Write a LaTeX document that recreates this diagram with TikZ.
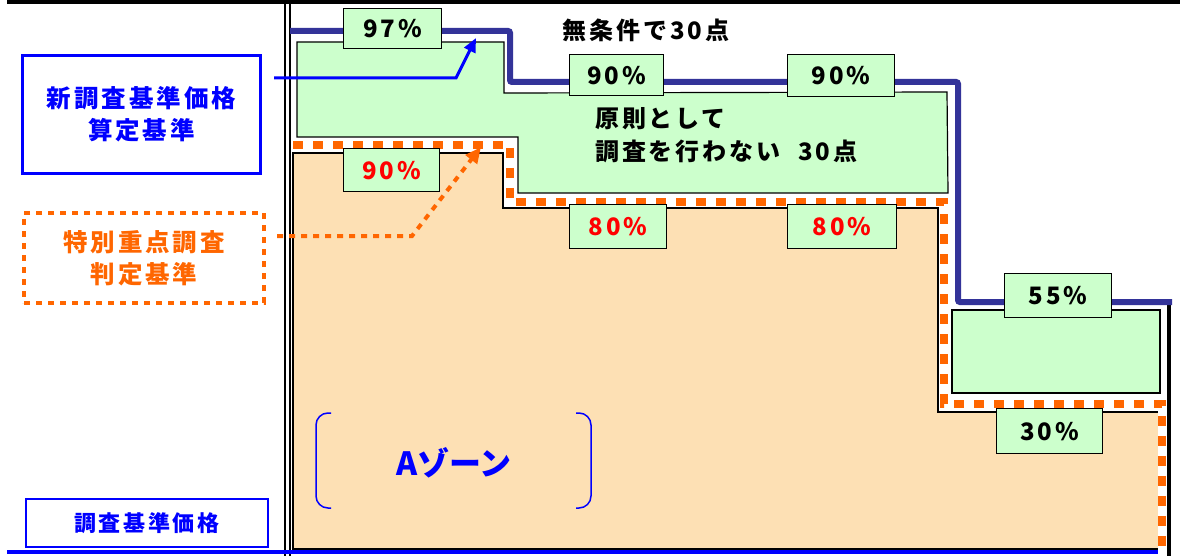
\documentclass[tikz,border=0pt]{standalone}
\usepackage{fontspec}
\setmainfont{Noto Sans CJK JP}
\newfontfamily\jpwide{Noto Sans CJK JP}[LetterSpace=12]
\usetikzlibrary{arrows.meta,positioning}
\definecolor{StdNavy}{RGB}{51,51,153}
\definecolor{StdBlue}{RGB}{0,0,255}
\definecolor{CheckOrange}{RGB}{255,102,0}
\definecolor{PassGreen}{RGB}{204,255,204}
\definecolor{ZonePeach}{RGB}{253,224,180}
\definecolor{RateRed}{RGB}{255,0,0}

\begin{document}
\begin{tikzpicture}[
  x=1pt,y=-1pt,
  rate/.style={draw,line width=1.3pt,fill=PassGreen,inner sep=0pt,anchor=north west,
    font=\fontsize{24}{24}\selectfont\bfseries\jpwide},
  redrate/.style={rate,text=RateRed},
  area/.style={draw,line width=1.2pt},
  stdline/.style={StdNavy,line width=6pt,rounded corners=2pt},
  checkline/.style={CheckOrange,line width=8pt,dash pattern=on 10pt off 10pt},
  legend/.style={inner sep=0pt,anchor=north west,align=center,
    font=\fontsize{22}{30}\selectfont\bfseries\jpwide},
  biglegend/.style={legend,font=\fontsize{24.5}{32}\selectfont\bfseries\jpwide},
  note/.style={inner sep=0pt,align=left,font=\fontsize{24}{33}\selectfont\bfseries\jpwide}]
\path[use as bounding box,fill=white] (0,0) rectangle (1180,556);
% areas
\path[area,fill=PassGreen] (297,42) -- (504,42) -- (504,93) -- (947,92) -- (948,193)
  -- (518,193) -- (518,137) -- (297,137) -- cycle;
\path[area,fill=ZonePeach] (293,153) -- (503,153) -- (503,208) -- (938,208) -- (938,412)
  -- (1160,412) -- (1160,549) -- (293,549) -- cycle;
\path[area,fill=PassGreen] (952,310) rectangle (1160,393);
% frame
\draw[line width=4pt] (7,2) -- (1180,2);
\draw[line width=1.5pt] (285,0) -- (285,556);
\draw[line width=1.5pt] (290,0) -- (290,556);
\draw[StdBlue,line width=4pt] (7,552) -- (1166,552);
\draw[line width=4pt] (1169,305) -- (1169,556);
% thresholds
\draw[stdline] (290,31) -- (510,31) -- (510,82) -- (958,82) -- (958,302) -- (1172,302);
\draw[white,line width=8pt] (293,145) -- (510,145) -- (510,202) -- (944,202) -- (944,404)
  -- (1162,404) -- (1162,556);
\draw[checkline] (293,145) -- (510,145) -- (510,202) -- (944,202) -- (944,404)
  -- (1162,404) -- (1162,556);
% rate labels
\node[rate,minimum width=98,minimum height=40] (r97) at (343,8) {97\%};
\node[rate,minimum width=94,minimum height=41] (r90a) at (569,54) {90\%};
\node[rate,minimum width=107,minimum height=42] (r90b) at (787,54) {90\%};
\node[redrate,minimum width=96,minimum height=43] (r90c) at (343,148) {90\%};
\node[redrate,minimum width=97,minimum height=44] (r80a) at (569,204) {80\%};
\node[redrate,minimum width=109,minimum height=44] (r80b) at (787,204) {80\%};
\node[rate,minimum width=107,minimum height=44] (r55) at (1004,273) {55\%};
\node[rate,minimum width=106,minimum height=45] (r30) at (996,408) {30\%};
% notes
\node[note] (cond) at (646,30) {無条件で30点};
\node[note,anchor=west] (rule) at (595,135) {原則として\\調査を行わない\hspace{18pt}30点};
% legend boxes
\node[biglegend,draw=StdBlue,line width=3pt,text=StdBlue,minimum width=238,minimum height=118]
  (newstd) at (21,54) {新調査基準価格\\算定基準};
\node[biglegend,draw=CheckOrange,line width=4pt,dash pattern=on 6pt off 6pt,text=CheckOrange,
  minimum width=240,minimum height=90] (spstd) at (22,211) {特別重点調査\\判定基準};
\node[legend,draw=StdBlue,line width=1.5pt,text=StdBlue,minimum width=242,minimum height=48]
  (basestd) at (25,498) {調査基準価格};
% pointers
\coordinate (newtail) at (274,78);
\coordinate (newbend) at (456,78);
\coordinate (newtip) at (476,38);
\draw[StdBlue,line width=3pt,-{Triangle[length=14pt,width=12pt]}]
  (newtail) -- (newbend) -- (newtip);
\coordinate (sptail) at (277,236);
\coordinate (spbend) at (412,236);
\coordinate (sptip) at (481,147);
\draw[CheckOrange,line width=4pt,dash pattern=on 6pt off 6pt,-{Triangle[length=16pt,width=14pt]}]
  (sptail) -- (spbend) -- (sptip);
% zone
\draw[StdBlue,line width=1.5pt,rounded corners=12pt] (331,413) -- (316,413) -- (316,508) -- (331,508);
\draw[StdBlue,line width=1.5pt,rounded corners=12pt] (576,413) -- (591,413) -- (591,508) -- (576,508);
\node[inner sep=0pt,text=StdBlue,font=\fontsize{32}{32}\selectfont\bfseries] (zone) at (454,463) {Aゾーン};
\end{tikzpicture}
\end{document}
